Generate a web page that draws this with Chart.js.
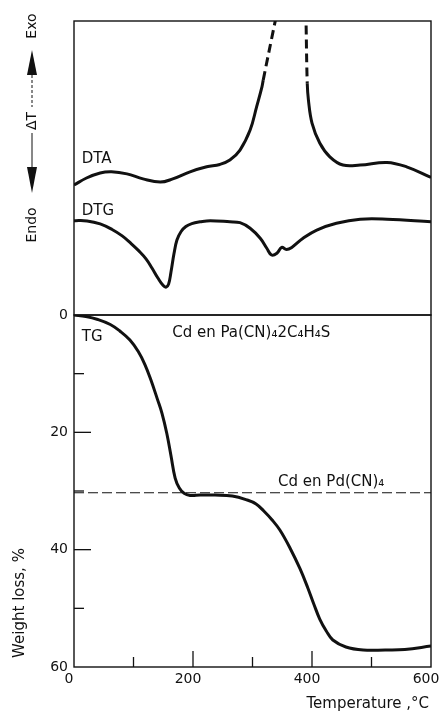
<!DOCTYPE html>
<html>
<head>
<meta charset="utf-8">
<script src="https://cdn.jsdelivr.net/npm/chart.js@4.4.1/dist/chart.umd.min.js"></script>
<style>
body { margin: 0; background: #fff; }
#wrap { position: relative; width: 439px; height: 718px; }
canvas { position: absolute; left: 0; top: 0; }
</style>
</head>
<body>
<div id="wrap">
  <canvas id="upper" width="439" height="718"></canvas>
  <canvas id="lower" width="439" height="718"></canvas>
</div>
<script>
// DTA trace (arbitrary units, peak runs off the top of the panel)
const dtaTemp   = [0, 21, 44, 63, 89, 116, 145, 166, 195, 223, 245, 262, 279, 296, 307, 316, 318, 338, 349, 389, 390, 392, 394, 400, 413, 430, 452, 481, 526, 559, 600]
const dtaSignal = [44.2, 46.6, 48.3, 48.7, 48.0, 46.3, 45.2, 46.3, 48.7, 50.4, 51.2, 52.7, 56.1, 62.9, 70.9, 77.7, 79.9, 99.8, 110.5, 110.5, 99.8, 78.8, 73.1, 65.3, 58.5, 53.8, 51.0, 51.0, 51.9, 50.4, 46.8]

// DTG trace
const dtgTemp   = [0, 22, 44, 64, 81, 96, 109, 121, 131, 141, 150, 155, 159, 163, 168, 173, 180, 188, 198, 212, 229, 262, 279, 296, 313, 324, 332, 341, 349, 357, 366, 385, 408, 441, 481, 526, 600]
const dtgSignal = [32.1, 32.0, 31.0, 29.1, 26.9, 24.3, 21.8, 19.1, 16.0, 12.6, 10.0, 9.5, 10.5, 14.6, 20.8, 25.5, 28.4, 30.1, 31.1, 31.7, 32.1, 31.7, 31.4, 29.5, 26.1, 22.7, 20.4, 21.0, 23.0, 22.3, 23.0, 26.1, 28.9, 31.2, 32.6, 32.6, 31.7]

// TG trace, weight loss %
const tgTemp = [0, 20, 40, 61, 77, 94, 108, 119, 129, 140, 148, 156, 163, 170, 177, 185, 195, 212, 237, 266, 291, 306, 319, 333, 346, 363, 380, 393, 403, 413, 424, 435, 457, 486, 523, 556, 600]
const tgLoss = [0, 0.26, 0.77, 1.62, 2.73, 4.26, 6.22, 8.4, 11.0, 14.3, 16.8, 20.2, 24.0, 27.8, 29.5, 30.4, 30.75, 30.7, 30.7, 30.85, 31.53, 32.22, 33.41, 34.94, 36.65, 39.71, 43.29, 46.53, 49.26, 51.82, 53.86, 55.4, 56.59, 57.1, 57.1, 57.02, 56.42]

// level of Cd en Pd(CN)4
const plateauTemp = [0, 600]
const plateauLoss = [30.3, 30.3]

const xMinorTicks = [100, 200, 300, 400, 500]
const yMinorTicks = [10, 20, 30, 40, 50]

const ink = "#111"
Chart.defaults.font.family = "DejaVu Sans"
Chart.defaults.font.size = 14
Chart.defaults.color = ink

function zip(xs, ys) {
    return xs.map((x, i) => ({ x: x, y: ys[i] }))
}

function vText(ctx, txt, x, y) {
    ctx.save()
    ctx.translate(x, y)
    ctx.rotate(-Math.PI / 2)
    ctx.textAlign = "center"
    ctx.textBaseline = "middle"
    ctx.fillText(txt, 0, 0)
    ctx.restore()
}

function line(ctx, x1, y1, x2, y2) {
    ctx.beginPath()
    ctx.moveTo(x1, y1)
    ctx.lineTo(x2, y2)
    ctx.stroke()
}

const upperDecor = {
    id: "upperDecor",
    afterDatasetsDraw(chart) {
        const ctx = chart.ctx
        const a = chart.chartArea
        const xs = chart.scales.x, ys = chart.scales.y
        ctx.save()
        ctx.strokeStyle = ink
        ctx.lineWidth = 1.4
        ctx.strokeRect(a.left, a.top, a.right - a.left, a.bottom - a.top)

        ctx.fillStyle = ink
        ctx.font = "15px DejaVu Sans"
        ctx.textAlign = "left"
        ctx.textBaseline = "middle"
        ctx.fillText("DTA", xs.getPixelForValue(13), ys.getPixelForValue(53))
        ctx.fillText("DTG", xs.getPixelForValue(13), ys.getPixelForValue(35.4))

        // Exo / dT / Endo side label
        ctx.font = "14px DejaVu Sans"
        vText(ctx, "Exo", 32, 26)
        vText(ctx, "\u0394T", 32, 121)
        vText(ctx, "Endo", 32, 225)
        ctx.beginPath()
        ctx.moveTo(27, 75); ctx.lineTo(37, 75); ctx.lineTo(32, 50); ctx.closePath()
        ctx.fill()
        ctx.beginPath()
        ctx.moveTo(27, 167); ctx.lineTo(37, 167); ctx.lineTo(32, 193); ctx.closePath()
        ctx.fill()
        ctx.lineWidth = 1
        ctx.setLineDash([3, 2])
        line(ctx, 32, 75, 32, 107)
        ctx.setLineDash([])
        line(ctx, 32, 133, 32, 167)
        ctx.restore()
    }
}

const lowerDecor = {
    id: "lowerDecor",
    afterDatasetsDraw(chart) {
        const ctx = chart.ctx
        const a = chart.chartArea
        const xs = chart.scales.x, ys = chart.scales.y
        ctx.save()
        ctx.strokeStyle = ink
        ctx.lineWidth = 1.4
        ctx.strokeRect(a.left, a.top, a.right - a.left, a.bottom - a.top)

        ctx.lineWidth = 1.3
        xMinorTicks.forEach((v) => {
            const px = xs.getPixelForValue(v)
            const len = v % 200 === 0 ? 16 : 10
            line(ctx, px, a.bottom, px, a.bottom - len)
        })
        yMinorTicks.forEach((v) => {
            const py = ys.getPixelForValue(v)
            const len = v % 20 === 0 ? 17 : 10
            line(ctx, a.left, py, a.left + len, py)
        })

        ctx.fillStyle = ink
        ctx.font = "15px DejaVu Sans"
        ctx.textAlign = "left"
        ctx.textBaseline = "middle"
        ctx.fillText("TG", xs.getPixelForValue(13), ys.getPixelForValue(3.8))
        ctx.fillText("Cd en Pa(CN)\u20842C\u2084H\u2084S", xs.getPixelForValue(165), ys.getPixelForValue(3.1))
        ctx.fillText("Cd en Pd(CN)\u2084", xs.getPixelForValue(343), ys.getPixelForValue(28.5))

        ctx.textAlign = "right"
        ctx.fillText("Temperature ,\u00B0C", 429, 704)
        vText(ctx, "Weight loss, %", 20, 603)
        ctx.restore()
    }
}

const curve = {
    borderColor: ink,
    borderWidth: 3,
    pointRadius: 0,
    fill: false,
    tension: 0.4,
    clip: 0
}

new Chart(document.getElementById("upper"), {
    type: "line",
    data: {
        datasets: [
            Object.assign({}, curve, {
                label: "DTA",
                data: zip(dtaTemp, dtaSignal),
                segment: {
                    borderDash: (c) => (c.p0.parsed.y >= 78 && c.p1.parsed.y >= 78) ? [9, 5] : undefined
                }
            }),
            Object.assign({}, curve, { label: "DTG", data: zip(dtgTemp, dtgSignal) })
        ]
    },
    options: {
        responsive: false,
        animation: false,
        layout: { padding: { top: 21, bottom: 403, left: 74, right: 8 } },
        plugins: { legend: { display: false }, tooltip: { enabled: false } },
        scales: {
            x: { type: "linear", min: 0, max: 600, display: false },
            y: { type: "linear", min: 0, max: 100, display: false }
        }
    },
    plugins: [upperDecor]
})

new Chart(document.getElementById("lower"), {
    type: "line",
    data: {
        datasets: [
            Object.assign({}, curve, { label: "TG", data: zip(tgTemp, tgLoss) }),
            Object.assign({}, curve, {
                label: "Cd en Pd(CN)4",
                data: zip(plateauTemp, plateauLoss),
                borderWidth: 1.2,
                borderDash: [10, 4],
                tension: 0
            })
        ]
    },
    options: {
        responsive: false,
        animation: false,
        layout: { padding: { top: 315, bottom: 0, left: 0, right: 8 } },
        plugins: { legend: { display: false }, tooltip: { enabled: false } },
        scales: {
            x: {
                type: "linear", min: 0, max: 600,
                grid: { display: false, drawTicks: false },
                border: { display: false },
                ticks: { stepSize: 200, padding: 4, maxRotation: 0, autoSkip: false, labelOffset: -5 },
                afterFit: (s) => { s.height = 51; s.paddingLeft = 0; s.paddingRight = 0 }
            },
            y: {
                type: "linear", min: 0, max: 60, reverse: true,
                grid: { display: false, drawTicks: false },
                border: { display: false },
                ticks: { stepSize: 20, padding: 6 },
                afterFit: (s) => { s.width = 74; s.paddingTop = 0; s.paddingBottom = 0 }
            }
        }
    },
    plugins: [lowerDecor]
})
</script>
</body>
</html>
